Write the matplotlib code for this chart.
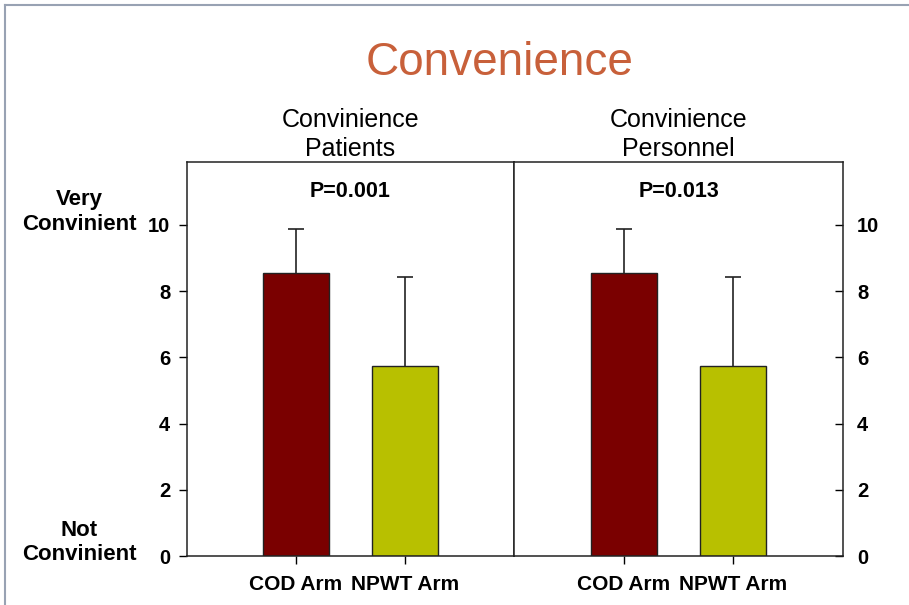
import numpy as np
import matplotlib.pyplot as plt
from matplotlib.lines import Line2D

plt.rcParams['font.family'] = ['Liberation Sans', 'DejaVu Sans']

# --- Data ---
groups = ['COD Arm', 'NPWT Arm']
patients_mean = [8.55, 5.75]
patients_err = [1.33, 2.68]
personnel_mean = [8.55, 5.75]
personnel_err = [1.33, 2.68]
panel_titles = ['Convinience\nPatients', 'Convinience\nPersonnel']
p_values = ['P=0.001', 'P=0.013']
bar_colors = ['#7a0000', '#b8c000']
yticks = [0, 2, 4, 6, 8, 10]

W, H = 909, 605
fig = plt.figure(figsize=(W / 100, H / 100), dpi=100)

def px(x, y):
    return x / W, 1 - y / H

# slide frame lines
fig.add_artist(Line2D([5 / W, 1], [1 - 5 / H, 1 - 5 / H], color='#98a2b3', lw=1.5))
fig.add_artist(Line2D([5 / W, 5 / W], [0, 1 - 5 / H], color='#98a2b3', lw=1.5))

fig.text(*px(500, 63), 'Convenience', color='#c8603a', fontsize=33,
         ha='center', va='center')

bottom = (H - 556) / H
height = 394 / H
ax1 = fig.add_axes([187 / W, bottom, 327 / W, height])
ax2 = fig.add_axes([514 / W, bottom, 329 / W, height])

x = np.array([1, 2])
for ax, means, errs, title, pv in [(ax1, patients_mean, patients_err, panel_titles[0], p_values[0]),
                                   (ax2, personnel_mean, personnel_err, panel_titles[1], p_values[1])]:
    ax.bar(x, means, width=0.6, color=bar_colors, edgecolor='#222222', linewidth=1.0, zorder=2)
    eb = ax.errorbar(x, means, yerr=[[0, 0], errs], fmt='none', ecolor='#222222',
                     elinewidth=1.2, capsize=5.5, capthick=1.2, zorder=1)
    eb[1][0].set_visible(False)  # no lower cap
    ax.set_xlim(0, 3)
    ax.set_ylim(0, 11.9)
    ax.set_xticks(x)
    ax.set_xticklabels(groups, fontsize=15, fontweight='bold')
    ax.tick_params(axis='x', direction='out', length=6, width=1, pad=8)
    ax.set_yticks(yticks)
    for s in ax.spines.values():
        s.set_linewidth(1.1)
        s.set_color('#222222')
    ax.text(1.5, 11.0, pv, ha='center', va='center', fontsize=15.5, fontweight='bold')
    ax.set_title(title, fontsize=18, pad=4, linespacing=1.3)

ax1.set_yticklabels([str(t) for t in yticks], fontsize=14.5, fontweight='bold')
ax1.tick_params(axis='y', direction='out', length=6, width=1, pad=6)
ax2.yaxis.tick_right()
ax2.set_yticklabels([str(t) for t in yticks], fontsize=14.5, fontweight='bold')
ax2.tick_params(axis='y', direction='in', length=6, width=1, pad=10)

# side labels
for label, yy in [('Very', 200), ('Convinient', 225), ('Not', 530), ('Convinient', 555)]:
    fig.text(*px(79, yy), label, fontsize=16, fontweight='bold', ha='center', va='center')

fig.savefig('out.png', dpi=100)
